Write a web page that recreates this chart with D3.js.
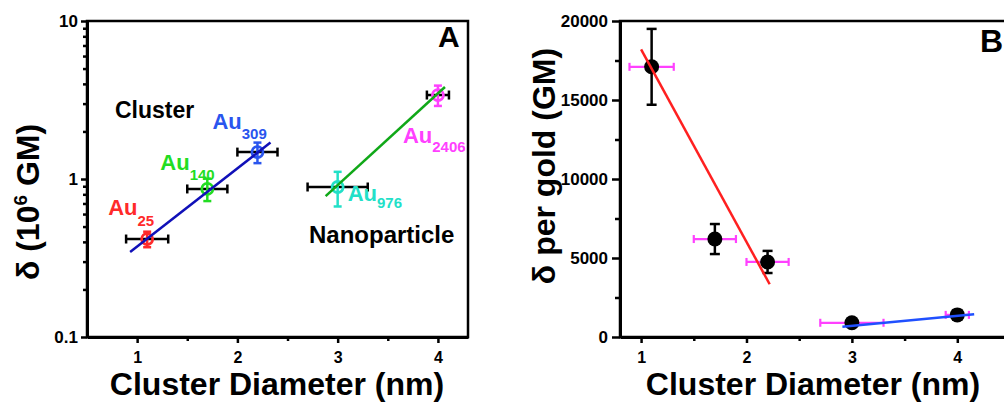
<!DOCTYPE html>
<html>
<head>
<meta charset="utf-8">
<script src="https://cdn.jsdelivr.net/npm/d3@7"></script>
<style>
  body{margin:0;background:#fff;}
  svg text{font-family:"Liberation Sans",Arial,sans-serif;font-weight:bold;}
  .axis .domain{stroke:#000;stroke-width:3;}
  .axis line{stroke:#000;stroke-width:2.5;}
  .axis text{font-size:16px;fill:#000;}
</style>
</head>
<body>
<div id="chart"></div>
<script>
// cluster data (shared x)
const clusterNames=["25","140","309","976","2406"];
const diameters=[1.1,1.7,2.2,3.0,4.0];
const diameterErr=[0.21,0.2,0.2,0.3,0.11];
const clusterColors=["#ff2a2a","#22dd22","#2a55ee","#22e0c8","#ff40ff"];

// panel A: delta (10^6 GM), log scale
const deltaA=[0.417,0.865,1.48,0.89,3.4];
const deltaAErr=[0.047,0.14,0.22,0.22,0.5];
const fitClusterX=[0.93,2.33], fitClusterY=[0.345,1.70];
const fitNanoX=[2.88,4.07], fitNanoY=[0.78,3.82];
const yTicksA=[0.1,1,10];

// panel B: delta per gold (GM)
const perGold=[17100,6200,4750,900,1400];
const perGoldErr=[2400,950,700,250,300];
const fitBClusterX=[1.0,2.22], fitBClusterY=[18200,3340];
const fitBNanoX=[2.91,4.16], fitBNanoY=[650,1440];
const yTicksB=[0,5000,10000,15000,20000];
const xTicks=[1,2,3,4];

const W=1004,H=403;
const svg=d3.select("#chart").append("svg").attr("width",W).attr("height",H);
const plotTop=21,plotBottom=337;

// ---------- panel A ----------
const xA=d3.scaleLinear().domain([0.5,4.3]).range([87,468]);
const yA=d3.scaleLog().domain([0.1,10]).range([plotBottom,plotTop]);

svg.append("rect").attr("x",87).attr("y",plotTop).attr("width",468-87).attr("height",plotBottom-plotTop)
   .attr("fill","none").attr("stroke","#000").attr("stroke-width",2.5);

const minorA=[];
[0.1,1].forEach(d=>{for(let k=2;k<=9;k++) minorA.push(d*k);});
svg.append("g").attr("class","axis").attr("transform","translate(87,0)")
   .call(d3.axisLeft(yA).tickValues(minorA).tickSize(4).tickFormat(""))
   .select(".domain").remove();
svg.append("g").attr("class","axis").attr("transform","translate(87,0)")
   .call(d3.axisLeft(yA).tickValues(yTicksA).tickSize(6).tickSizeOuter(0).tickPadding(3).tickFormat(d3.format("")))
   .selectAll("text").style("font-size","17px");

svg.append("g").attr("class","axis").attr("transform",`translate(0,${plotBottom})`)
   .call(d3.axisBottom(xA).tickValues([1.5,2.5,3.5]).tickSize(4).tickFormat(""))
   .select(".domain").remove();
svg.append("g").attr("class","axis").attr("transform",`translate(0,${plotBottom})`)
   .call(d3.axisBottom(xA).tickValues(xTicks).tickSize(6).tickSizeOuter(0).tickPadding(9).tickFormat(d3.format("d")));

const ptsA=diameters.map((d,i)=>({x:d,xe:diameterErr[i],y:deltaA[i],ye:deltaAErr[i],c:clusterColors[i],n:clusterNames[i]}));

const gA=svg.append("g");
ptsA.forEach(p=>{
  // horizontal error bar (black)
  const y=yA(p.y),x1=xA(p.x-p.xe),x2=xA(p.x+p.xe);
  gA.append("line").attr("x1",x1).attr("x2",x2).attr("y1",y).attr("y2",y).attr("stroke","#000").attr("stroke-width",2.5);
  [x1,x2].forEach(x=>gA.append("line").attr("x1",x).attr("x2",x).attr("y1",y-4.5).attr("y2",y+4.5).attr("stroke","#000").attr("stroke-width",2.5));
  // vertical error bar (coloured)
  const x=xA(p.x),y1=yA(p.y+p.ye),y2=yA(p.y-p.ye);
  gA.append("line").attr("x1",x).attr("x2",x).attr("y1",y1).attr("y2",y2).attr("stroke",p.c).attr("stroke-width",2.5);
  [y1,y2].forEach(yy=>gA.append("line").attr("x1",x-4).attr("x2",x+4).attr("y1",yy).attr("y2",yy).attr("stroke",p.c).attr("stroke-width",2.5));
  gA.append("circle").attr("cx",x).attr("cy",y).attr("r",5.5).attr("fill","none").attr("stroke",p.c).attr("stroke-width",2.8);
});

const lineA=d3.line().x(d=>xA(d[0])).y(d=>yA(d[1]));
gA.append("path").attr("d",lineA(d3.zip(fitClusterX,fitClusterY))).attr("stroke","#1010b8").attr("stroke-width",2.5).attr("fill","none");
gA.append("path").attr("d",lineA(d3.zip(fitNanoX,fitNanoY))).attr("stroke","#10a818").attr("stroke-width",2.5).attr("fill","none");

// Au labels, offsets from each point
const labelOff=[[-39,-24,11],[-47,-19,10],[-45,-23,10],[10,14,7],[-35,48,9]];
ptsA.forEach((p,i)=>{
  const o=labelOff[i];
  const t=svg.append("text").attr("x",xA(p.x)+o[0]).attr("y",yA(p.y)+o[1]).attr("fill",p.c).style("font-size","22px");
  t.append("tspan").text("Au");
  t.append("tspan").attr("dy",o[2]).style("font-size","15px").text(p.n);
});

svg.append("text").attr("x",115).attr("y",118).style("font-size","23px").text("Cluster");
svg.append("text").attr("x",309).attr("y",243).style("font-size","24px").text("Nanoparticle");
svg.append("text").attr("x",438).attr("y",47).style("font-size","30px").text("A");

svg.append("text").attr("x",277).attr("y",395).attr("text-anchor","middle").style("font-size","32px").text("Cluster Diameter (nm)");
const tA=svg.append("text").attr("transform","translate(39,202) rotate(-90)").attr("text-anchor","middle").style("font-size","32px");
tA.append("tspan").text("δ (10");
tA.append("tspan").attr("dy",-12).style("font-size","19px").text("6");
tA.append("tspan").attr("dy",12).text(" GM)");

// ---------- panel B ----------
const xB=d3.scaleLinear().domain([0.8,4.5]).range([620,1010]);
const yB=d3.scaleLinear().domain([0,20000]).range([plotBottom,plotTop]);

svg.append("rect").attr("x",620).attr("y",plotTop).attr("width",1010-620).attr("height",plotBottom-plotTop)
   .attr("fill","none").attr("stroke","#000").attr("stroke-width",2.5);

svg.append("g").attr("class","axis").attr("transform","translate(620,0)")
   .call(d3.axisLeft(yB).tickValues([2500,7500,12500,17500]).tickSize(5).tickFormat(""))
   .select(".domain").remove();
svg.append("g").attr("class","axis").attr("transform","translate(620,0)")
   .call(d3.axisLeft(yB).tickValues(yTicksB).tickSize(8).tickSizeOuter(0).tickPadding(4).tickFormat(d3.format("d")))
   .selectAll("text").style("font-size","17px");

svg.append("g").attr("class","axis").attr("transform",`translate(0,${plotBottom})`)
   .call(d3.axisBottom(xB).tickValues([1.5,2.5,3.5]).tickSize(4).tickFormat(""))
   .select(".domain").remove();
svg.append("g").attr("class","axis").attr("transform",`translate(0,${plotBottom})`)
   .call(d3.axisBottom(xB).tickValues(xTicks).tickSize(6).tickSizeOuter(0).tickPadding(9).tickFormat(d3.format("d")));

const gB=svg.append("g");
diameters.forEach((d,i)=>{
  const x=xB(d),y=yB(perGold[i]);
  const x1=xB(d-diameterErr[i]),x2=xB(d+diameterErr[i]);
  gB.append("line").attr("x1",x1).attr("x2",x2).attr("y1",y).attr("y2",y).attr("stroke","#ff40ff").attr("stroke-width",2.2);
  [x1,x2].forEach(xx=>gB.append("line").attr("x1",xx).attr("x2",xx).attr("y1",y-4).attr("y2",y+4).attr("stroke","#ff40ff").attr("stroke-width",2.2));
  const y1=yB(perGold[i]+perGoldErr[i]),y2=yB(perGold[i]-perGoldErr[i]);
  gB.append("line").attr("x1",x).attr("x2",x).attr("y1",y1).attr("y2",y2).attr("stroke","#000").attr("stroke-width",2.5);
  [y1,y2].forEach(yy=>gB.append("line").attr("x1",x-5).attr("x2",x+5).attr("y1",yy).attr("y2",yy).attr("stroke","#000").attr("stroke-width",2.5));
  gB.append("circle").attr("cx",x).attr("cy",y).attr("r",7.5).attr("fill","#000");
});

const lineB=d3.line().x(d=>xB(d[0])).y(d=>yB(d[1]));
gB.append("path").attr("d",lineB(d3.zip(fitBClusterX,fitBClusterY))).attr("stroke","#ff2020").attr("stroke-width",2.5).attr("fill","none");
gB.append("path").attr("d",lineB(d3.zip(fitBNanoX,fitBNanoY))).attr("stroke","#2050ff").attr("stroke-width",2.5).attr("fill","none");

svg.append("text").attr("x",980).attr("y",52).style("font-size","32px").text("B");
svg.append("text").attr("x",813).attr("y",395).attr("text-anchor","middle").style("font-size","32px").text("Cluster Diameter (nm)");
svg.append("text").attr("transform","translate(555,166) rotate(-90)").attr("text-anchor","middle").style("font-size","32px").text("δ per gold (GM)");
</script>
</body>
</html>
